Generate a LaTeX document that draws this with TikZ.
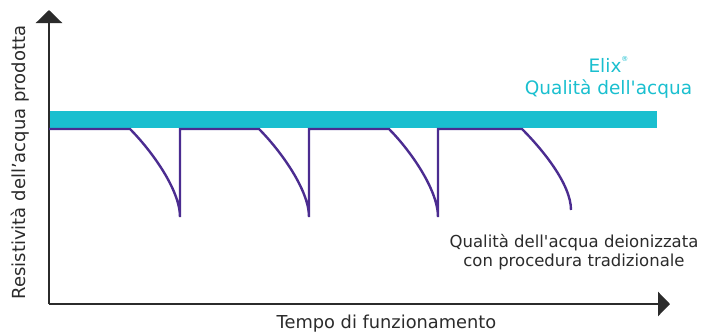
\documentclass[tikz,border=0pt]{standalone}
\usepackage{fontspec}
\setmainfont{DejaVu Sans}
\usetikzlibrary{arrows.meta}
\definecolor{teal1}{HTML}{1ABFCF}
\definecolor{purp}{HTML}{4B2C90}
\definecolor{txt}{HTML}{2B2B2B}
\tikzset{
  axis/.style={line width=2.6pt, draw=txt},
  qline/.style={line width=2.4pt, draw=purp, line join=miter},
  lbl/.style={text=txt, inner sep=0pt, align=center},
}
\begin{document}
\begin{tikzpicture}[x=1pt,y=-1pt]
\useasboundingbox (0,0) rectangle (701,333);
% teal band
\fill[teal1] (49,111) rectangle (657,128);
% axes
\coordinate (O) at (49,304);
\coordinate (ytop) at (49,10);
\coordinate (xend) at (670,304);
\draw[axis,-{Triangle[length=13pt,width=26pt]}] (O) -- (ytop);
\draw[axis,-{Triangle[length=12pt,width=24pt]}] (O) -- (xend);
% purple curve
\coordinate (p0) at (49,129);
\coordinate (a1) at (130,129);
\coordinate (b1) at (180,217);
\coordinate (t1) at (180,129);
\coordinate (a2) at (259,129);
\coordinate (b2) at (309,217);
\coordinate (t2) at (309,129);
\coordinate (a3) at (389,129);
\coordinate (b3) at (438,217);
\coordinate (t3) at (438,129);
\coordinate (a4) at (522,129);
\coordinate (b4) at (571,210);
\draw[qline] (p0) -- (a1) .. controls +(20,20) and +(0,-28) .. (b1) -- (t1) -- (a2)
  .. controls +(20,20) and +(0,-28) .. (b2) -- (t2) -- (a3)
  .. controls +(20,20) and +(0,-28) .. (b3) -- (t3) -- (a4)
  .. controls +(20,20) and +(0,-26) .. (b4);
% labels
\node[lbl, rotate=90, anchor=base, font=\fontsize{18}{20}\selectfont] (ylab) at (25,162.5) {Resistività dell’acqua prodotta};
\node[lbl, anchor=base, font=\fontsize{17.8}{20}\selectfont] (xlab) at (386.5,328.5) {Tempo di funzionamento};
\node[lbl, text=teal1, anchor=base, font=\fontsize{18.5}{22}\selectfont] (elix1) at (608.5,72) {Elix\raisebox{0.55em}{\fontsize{7}{8}\selectfont ®}};
\node[lbl, text=teal1, anchor=base, font=\fontsize{18.5}{22}\selectfont] (elix2) at (608.5,94) {Qualità dell\textquotesingle acqua};
\node[lbl, anchor=base, font=\fontsize{16.5}{19}\selectfont] (trad1) at (574,247) {Qualità dell\textquotesingle acqua deionizzata};
\node[lbl, anchor=base, font=\fontsize{16.5}{19}\selectfont] (trad2) at (574,266) {con procedura tradizionale};
\end{tikzpicture}
\end{document}
